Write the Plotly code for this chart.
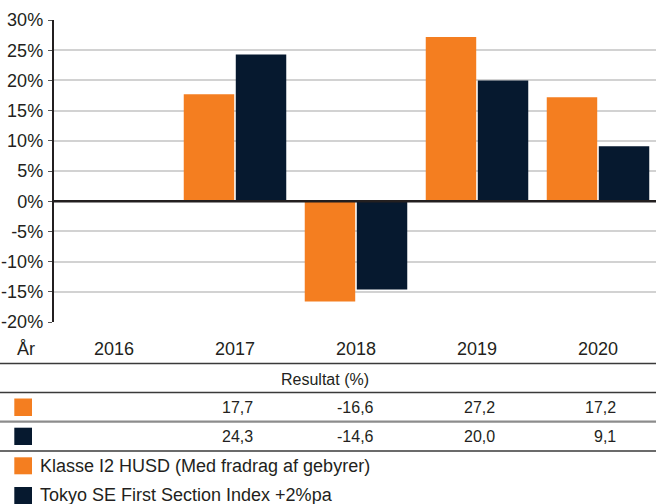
import plotly.graph_objects as go

# ---- data ----
years = ["2016", "2017", "2018", "2019", "2020"]
fund_name = "Klasse I2 HUSD (Med fradrag af gebyrer)"
index_name = "Tokyo SE First Section Index +2%pa"
fund_values = [None, 17.7, -16.6, 27.2, 17.2]
index_values = [None, 24.3, -14.6, 20.0, 9.1]
y_ticks = [-20, -15, -10, -5, 0, 5, 10, 15, 20, 25, 30]
row_header = "Resultat (%)"
year_label = "År"

ORANGE = "#F47E20"
NAVY = "#06192F"
TEXT = "#231F20"
FONT = "Liberation Sans, Arial, Helvetica, sans-serif"

W, H = 656, 504


def px(x):
    return x / W


def py(y):
    return (H - y) / H


def fmt(v):
    return "" if v is None else f"{v:.1f}".replace(".", ",")


fig = go.Figure()
fig.add_trace(go.Bar(x=years, y=fund_values, name=fund_name,
                     marker=dict(color=ORANGE, line=dict(width=0))))
fig.add_trace(go.Bar(x=years, y=index_values, name=index_name,
                     marker=dict(color=NAVY, line=dict(width=0))))

x_left = 53.5
plot_top, plot_bottom = 20, 322
cat_w = 121.0
span = (W - x_left) / cat_w

shapes = []
annotations = []

# zero line on top of bars
shapes.append(dict(type="line", xref="paper", yref="y", x0=px(x_left), x1=1,
                   y0=0, y1=0, line=dict(color=TEXT, width=2.5), layer="above"))

# category labels
annotations.append(dict(text=year_label, xref="paper", yref="paper", x=px(26), y=py(349),
                        xanchor="center", yanchor="middle", showarrow=False,
                        font=dict(size=18, color=TEXT, family=FONT)))
for i, yr in enumerate(years):
    annotations.append(dict(text=yr, xref="x", yref="paper", x=i, y=py(349),
                            xanchor="center", yanchor="middle", showarrow=False,
                            font=dict(size=18, color=TEXT, family=FONT)))

# table lines
for yline, col, wd in [(363.5, "#3a3a3a", 1.5), (392.5, "#3a3a3a", 1.5),
                       (421.7, "#8c8c8c", 2.2), (451, "#3a3a3a", 1.5)]:
    shapes.append(dict(type="line", xref="paper", yref="paper", x0=0, x1=1,
                       y0=py(yline), y1=py(yline), line=dict(color=col, width=wd)))

annotations.append(dict(text=row_header, xref="paper", yref="paper", x=px(325), y=py(379),
                        xanchor="center", yanchor="middle", showarrow=False,
                        font=dict(size=16, color=TEXT, family=FONT)))

# table rows
for vals, color, yc, (sy0, sy1) in [(fund_values, ORANGE, 407, (398.5, 416)),
                                      (index_values, NAVY, 436.5, (427.7, 445))]:
    shapes.append(dict(type="rect", xref="paper", yref="paper", x0=px(14.3), x1=px(32),
                       y0=py(sy1), y1=py(sy0), fillcolor=color, line=dict(width=0)))
    for i, v in enumerate(vals):
        if v is None:
            continue
        annotations.append(dict(text=fmt(v), xref="x", yref="paper", x=i, y=py(yc),
                                xanchor="right", yanchor="middle", xshift=19.5, showarrow=False,
                                font=dict(size=16, color=TEXT, family=FONT)))

# legend
for name, color, yc, (sy0, sy1) in [(fund_name, ORANGE, 466, (457.3, 474.3)),
                                      (index_name, NAVY, 494.5, (487, 505))]:
    shapes.append(dict(type="rect", xref="paper", yref="paper", x0=px(14.3), x1=px(32),
                       y0=py(sy1), y1=py(sy0), fillcolor=color, line=dict(width=0)))
    annotations.append(dict(text=name, xref="paper", yref="paper", x=px(37.5), y=py(yc),
                            xanchor="left", yanchor="middle", showarrow=False,
                            font=dict(size=18, color=TEXT, family=FONT)))

fig.update_layout(
    width=W, height=H,
    margin=dict(l=0, r=0, t=0, b=0, autoexpand=False),
    paper_bgcolor="white", plot_bgcolor="white",
    showlegend=False,
    barmode="group", bargap=0.14, bargroupgap=0.03,
    font=dict(family=FONT, color=TEXT, size=18),
    xaxis=dict(domain=[px(x_left), 1], type="category", range=[-0.5, -0.5 + span],
               automargin=False,
               showticklabels=False, showgrid=False, zeroline=False, showline=False, ticks=""),
    yaxis=dict(domain=[py(plot_bottom), py(plot_top)], range=[-20, 30],
               automargin=False,
               tickvals=y_ticks, ticktext=[f"{t}%" for t in y_ticks],
               showgrid=True, gridcolor="#d2d2d2", gridwidth=1.5,
               zeroline=False, showline=True, linecolor=TEXT, linewidth=1.5,
               ticks="outside", ticklen=4, tickcolor="#555", tickwidth=1.2,
               ticklabelstandoff=1,
               tickfont=dict(size=18, color=TEXT, family=FONT)),
    shapes=shapes,
    annotations=annotations,
)

fig.write_html("out.html",
               config={"displayModeBar": False},
               post_script="document.body.style.margin='0';document.body.style.overflow='hidden';")
